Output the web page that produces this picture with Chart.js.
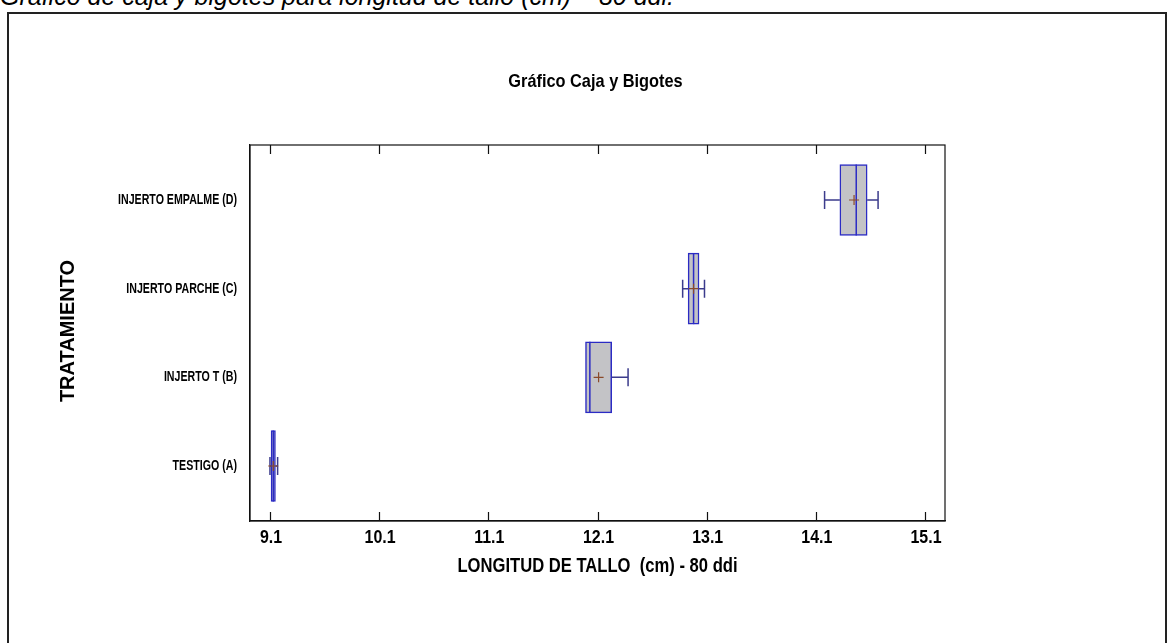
<!DOCTYPE html>
<html>
<head>
<meta charset="utf-8">
<script src="https://cdn.jsdelivr.net/npm/chart.js@4"></script>
<style>
  html, body { margin: 0; padding: 0; background: #fff; width: 1169px; height: 643px; overflow: hidden; }
  #caption { position: absolute; left: 0; top: -16px; font-family: "Liberation Sans", Arial, sans-serif; font-style: italic; font-size: 25px; line-height: 25px; color: #000; white-space: nowrap; }
  #frame { position: absolute; left: 7px; top: 12px; width: 1160px; height: 700px; border: 2px solid #222; box-sizing: border-box; }
  #wrap { position: absolute; left: 0; top: 0; width: 1169px; height: 643px; }
</style>
</head>
<body>
<div id="caption">Gráfico de caja y bigotes para longitud de tallo (cm) – 80 ddi.</div>
<div id="frame"></div>
<div id="wrap"><canvas id="c" width="1169" height="643"></canvas></div>
<script>
const categories = ['TESTIGO (A)', 'INJERTO T (B)', 'INJERTO PARCHE (C)', 'INJERTO EMPALME (D)'];
const whiskerMin = [9.10, 11.99, 12.88, 14.18];
const q1         = [9.11, 11.99, 12.93, 14.32];
const median     = [9.13, 12.03, 12.98, 14.47];
const q3         = [9.15, 12.23, 13.03, 14.57];
const whiskerMax = [9.17, 12.38, 13.08, 14.67];
const meanVals   = [9.13, 12.11, 12.98, 14.45];
const xTicks = [9.1, 10.1, 11.1, 12.1, 13.1, 14.1, 15.1];
const chartTitle = 'Gráfico Caja y Bigotes';
const xTitle = 'LONGITUD DE TALLO  (cm) - 80 ddi';
const yTitle = 'TRATAMIENTO';

const SANS = '"Liberation Sans", Arial, sans-serif';
const BOX_BORDER = '#2b2bc4';
const WHISKER = '#3b3b8c';

function narrowText(ctx, text, x, y, size, sx, align) {
  ctx.save();
  ctx.translate(x, y);
  ctx.scale(sx, 1);
  ctx.font = 'bold ' + size + 'px ' + SANS;
  ctx.fillStyle = '#000';
  ctx.textAlign = align;
  ctx.textBaseline = 'middle';
  ctx.fillText(text, 0, 0);
  ctx.restore();
}

const boxPlugin = {
  id: 'boxExtras',
  afterDatasetsDraw(chart) {
    const ctx = chart.ctx;
    const xs = chart.scales.x, ys = chart.scales.y;
    const half = 71 / 2;
    ctx.save();
    for (let i = 0; i < categories.length; i++) {
      const y = ys.getPixelForValue(i);
      const pMin = xs.getPixelForValue(whiskerMin[i]);
      const pQ1 = xs.getPixelForValue(q1[i]);
      const pQ3 = xs.getPixelForValue(q3[i]);
      const pMax = xs.getPixelForValue(whiskerMax[i]);
      const pMed = xs.getPixelForValue(median[i]);
      const pMean = xs.getPixelForValue(meanVals[i]);
      ctx.strokeStyle = WHISKER;
      ctx.lineWidth = 1.5;
      ctx.beginPath();
      if (whiskerMin[i] < q1[i]) {
        ctx.moveTo(pMin, y); ctx.lineTo(pQ1, y);
        ctx.moveTo(pMin, y - 9); ctx.lineTo(pMin, y + 9);
      }
      if (whiskerMax[i] > q3[i]) {
        ctx.moveTo(pQ3, y); ctx.lineTo(pMax, y);
        ctx.moveTo(pMax, y - 9); ctx.lineTo(pMax, y + 9);
      }
      ctx.stroke();
      ctx.strokeStyle = BOX_BORDER;
      ctx.beginPath();
      ctx.moveTo(pMed, y - half); ctx.lineTo(pMed, y + half);
      ctx.stroke();
      ctx.strokeStyle = '#8a4a2a';
      ctx.lineWidth = 1.2;
      ctx.beginPath();
      ctx.moveTo(pMean - 5, y); ctx.lineTo(pMean + 5, y);
      ctx.moveTo(pMean, y - 5); ctx.lineTo(pMean, y + 5);
      ctx.stroke();
    }
    ctx.restore();
  },
  afterDraw(chart) {
    const ctx = chart.ctx;
    const a = chart.chartArea;
    const xs = chart.scales.x, ys = chart.scales.y;
    ctx.save();
    ctx.strokeStyle = '#111';
    ctx.lineWidth = 1.2;
    ctx.strokeRect(a.left, a.top, a.right - a.left, a.bottom - a.top);
    ctx.beginPath();
    xTicks.forEach(v => {
      const px = Math.round(xs.getPixelForValue(v)) + 0.5;
      ctx.moveTo(px, a.top); ctx.lineTo(px, a.top + 9);
      ctx.moveTo(px, a.bottom); ctx.lineTo(px, a.bottom - 9);
    });
    ctx.stroke();
    ctx.restore();

    // texts
    const cx = (a.left + a.right) / 2;
    narrowText(ctx, chartTitle, cx - 2, 82, 19, 0.86, 'center');
    xTicks.forEach(v => {
      narrowText(ctx, v.toFixed(1), xs.getPixelForValue(v) + 1, a.bottom + 17, 19, 0.84, 'center');
    });
    categories.forEach((c, i) => {
      narrowText(ctx, c, a.left - 13, ys.getPixelForValue(i), 14, 0.76, 'right');
    });
    narrowText(ctx, xTitle, cx, a.bottom + 45, 20, 0.83, 'center');
    ctx.save();
    ctx.translate(68, (a.top + a.bottom) / 2 - 2);
    ctx.rotate(-Math.PI / 2);
    ctx.font = 'bold 20px ' + SANS;
    ctx.fillStyle = '#000';
    ctx.textAlign = 'center';
    ctx.textBaseline = 'middle';
    ctx.fillText(yTitle, 0, 0);
    ctx.restore();
  }
};

new Chart(document.getElementById('c'), {
  type: 'bar',
  data: {
    datasets: [{
      data: categories.map((c, i) => ({ x: [q1[i], q3[i]], y: i })),
      backgroundColor: '#c3c3c6',
      borderColor: BOX_BORDER,
      borderWidth: 1.5,
      borderSkipped: false,
      barThickness: 71
    }]
  },
  options: {
    indexAxis: 'y',
    responsive: false,
    animation: false,
    layout: { padding: { left: 50, right: 224, top: 145, bottom: 57 } },
    plugins: {
      legend: { display: false },
      tooltip: { enabled: false },
      title: { display: false }
    },
    scales: {
      x: {
        type: 'linear',
        min: 8.917,
        max: 15.283,
        afterBuildTicks: s => { s.ticks = xTicks.map(v => ({ value: v })); },
        afterFit: s => { s.height = 65; },
        grid: { display: false, drawTicks: false },
        border: { display: true, color: '#111', width: 1.2 },
        ticks: { display: false }
      },
      y: {
        type: 'linear',
        offset: false,
        min: -0.62,
        max: 3.62,
        afterBuildTicks: s => { s.ticks = categories.map((c, i) => ({ value: i })); },
        afterFit: s => { s.width = 200; },
        grid: { display: false, drawTicks: false, offset: false },
        border: { display: true, color: '#111', width: 1.2 },
        ticks: { display: false }
      }
    }
  },
  plugins: [boxPlugin]
});
</script>
</body>
</html>
